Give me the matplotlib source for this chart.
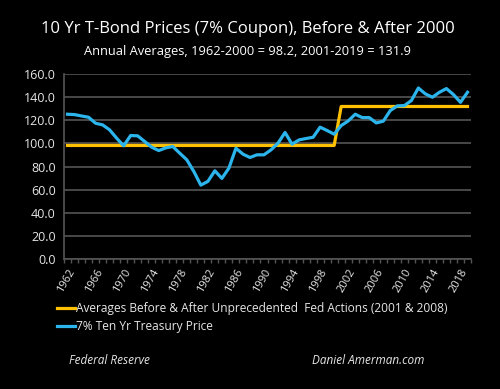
import numpy as np
import matplotlib.pyplot as plt
from matplotlib.lines import Line2D

years = list(range(1962, 2020))
price = [125.2, 124.9, 123.7, 122.6, 117.4, 116.0, 111.7, 104.5, 97.9, 106.8,
         106.5, 101.6, 96.7, 93.8, 96.1, 97.3, 91.5, 85.8, 75.7, 63.9,
         67.1, 76.3, 69.7, 78.6, 95.8, 90.7, 87.8, 90.1, 90.1, 94.4,
         100.2, 109.4, 99.3, 103.0, 104.2, 105.3, 114.0, 111.1, 107.9, 115.4,
         119.4, 125.2, 122.3, 122.3, 117.7, 119.2, 128.4, 132.4, 132.7, 137.0,
         147.9, 142.8, 139.9, 144.2, 147.4, 142.2, 135.5, 144.2]
avg_before = 98.2   # 1962-2000
avg_after = 131.9   # 2001-2019
averages = [avg_before if y <= 2000 else avg_after for y in years]

plt.rcParams['font.family'] = ['Open Sans', 'DejaVu Sans']
txt = '#e6e6e6'
grid = '#555555'

fig = plt.figure(figsize=(5, 3.89), dpi=100, facecolor='black')
ax = fig.add_axes([64/500, 1 - 259/389, (471-64)/500, (259-74)/389])
ax.set_facecolor('black')

x = np.arange(len(years))
ax.plot(x, averages, color='#ffc000', lw=2.3, solid_joinstyle='round')
ax.plot(x, price, color='#2bb5ec', lw=2.3, solid_joinstyle='round')

ax.set_xlim(-0.5, len(years) - 0.5)
ax.set_ylim(0, 160)
ax.set_yticks(np.arange(0, 161, 20))
ax.set_yticklabels([f'{v:.1f}' for v in np.arange(0, 161, 20)])
ax.yaxis.grid(True, color=grid, lw=1.2)
ax.set_axisbelow(True)

major = [i for i in x if i % 4 == 0]
ax.set_xticks(major)
ax.set_xticklabels([str(years[i]) for i in major], rotation=60, ha='right',
                   rotation_mode='anchor')
ax.set_xticks(np.arange(-0.5, len(years), 1), minor=True)
ax.tick_params(axis='x', which='major', length=0, pad=6, labelsize=8, colors=txt)
ax.tick_params(axis='x', which='minor', length=3, color=grid, width=1)
ax.tick_params(axis='y', length=0, labelsize=9, colors=txt, pad=6)

for s in ['top', 'right']:
    ax.spines[s].set_visible(False)
ax.spines['left'].set_color(grid)
ax.spines['bottom'].set_color(grid)
ax.spines['left'].set_linewidth(1.2)
ax.spines['bottom'].set_linewidth(1.2)

fig.text(0.496, 1 - 29/389, '10 Yr T-Bond Prices (7% Coupon), Before & After 2000',
         ha='center', va='center', color='white', fontsize=12)
fig.text(0.495, 1 - 52/389, 'Annual Averages, 1962-2000 = 98.2, 2001-2019 = 131.9',
         ha='center', va='center', color='white', fontsize=9.3)

handles = [Line2D([], [], color='#ffc000', lw=2.3),
           Line2D([], [], color='#2bb5ec', lw=2.3)]
labels = ['Averages Before & After Unprecedented  Fed Actions (2001 & 2008)',
          '7% Ten Yr Treasury Price']
fig.legend(handles, labels, loc='upper left', bbox_to_anchor=(57/500, 1 - 302/389),
           frameon=False, labelcolor=txt, fontsize=8.6, handlelength=1.5,
           handletextpad=0.1, labelspacing=0.45, borderpad=0, borderaxespad=0)

fig.text(69/500, 1 - 361/389, 'Federal Reserve', color=txt, fontsize=8.5,
         style='italic', va='center')
fig.text(312/500, 1 - 361/389, 'Daniel Amerman.com', color=txt, fontsize=8.5,
         style='italic', va='center')

fig.savefig('out.png', dpi=100, facecolor='black')
